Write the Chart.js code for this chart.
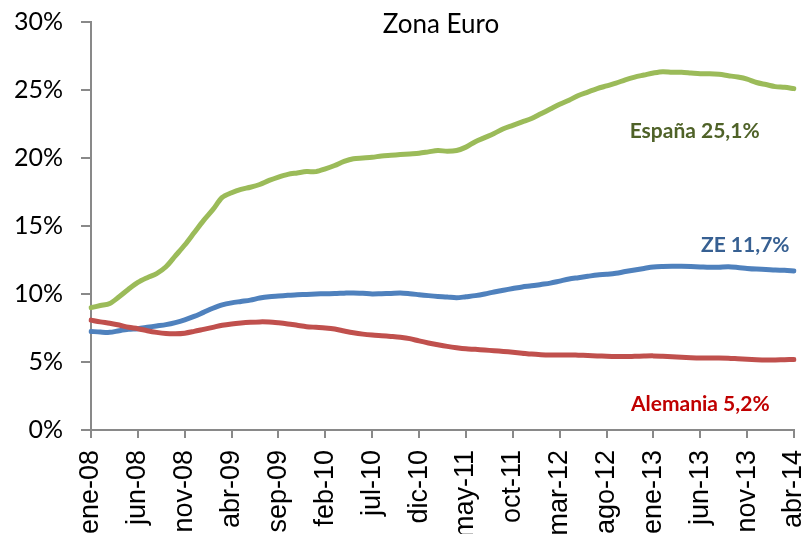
<!DOCTYPE html>
<html>
<head>
<meta charset="utf-8">
<script src="https://cdn.jsdelivr.net/npm/chart.js@4.4.1/dist/chart.umd.min.js"></script>
<style>
html,body{margin:0;padding:0;background:#fff;overflow:hidden;}
#wrap{position:relative;width:806px;height:560px;}
</style>
</head>
<body>
<div id="wrap"><canvas id="c" width="806" height="560"></canvas></div>
<script>
const monthNames = ['ene','feb','mar','abr','may','jun','jul','ago','sep','oct','nov','dic'];
const startYear = 2008, startMonth = 0, monthCount = 76;
const categories = [];
for (let i = 0; i < monthCount; i++) {
  const m = (startMonth + i) % 12, y = startYear + Math.floor((startMonth + i) / 12);
  categories.push(monthNames[m] + '-' + String(y).slice(2));
}
const tickEvery = 5;
const yTicks = [0, 5, 10, 15, 20, 25, 30];

const espana = [9.0,9.15,9.3,9.8,10.35,10.85,11.2,11.5,12.0,12.8,13.6,14.5,15.4,16.2,17.1,17.45,17.7,17.85,18.05,18.35,
18.6,18.8,18.9,19.0,19.0,19.2,19.45,19.75,19.95,20.0,20.05,20.15,20.2,20.25,20.3,20.35,20.45,20.55,20.5,20.55,
20.8,21.2,21.5,21.8,22.15,22.4,22.65,22.9,23.25,23.6,23.95,24.25,24.6,24.85,25.1,25.3,25.5,25.75,25.95,26.1,
26.25,26.35,26.3,26.3,26.25,26.2,26.2,26.15,26.05,25.95,25.8,25.55,25.4,25.25,25.2,25.1];
const ze = [7.25,7.2,7.18,7.3,7.4,7.45,7.55,7.65,7.75,7.9,8.1,8.35,8.65,8.95,9.2,9.35,9.45,9.55,9.7,9.8,
9.85,9.9,9.95,9.97,10.0,10.02,10.03,10.06,10.08,10.05,10.0,10.02,10.04,10.07,10.02,9.95,9.88,9.82,9.78,9.72,
9.8,9.88,10.0,10.15,10.28,10.4,10.52,10.6,10.7,10.8,10.95,11.1,11.2,11.3,11.4,11.45,11.52,11.65,11.77,11.88,
11.98,12.02,12.04,12.04,12.02,11.99,11.96,11.97,12.0,11.95,11.88,11.83,11.8,11.76,11.74,11.7];
const alemania = [8.08,7.95,7.85,7.72,7.55,7.45,7.3,7.18,7.1,7.08,7.12,7.25,7.4,7.55,7.7,7.8,7.87,7.92,7.95,7.94,
7.88,7.8,7.7,7.6,7.55,7.5,7.42,7.28,7.15,7.05,6.98,6.93,6.88,6.82,6.72,6.55,6.4,6.27,6.15,6.05,
5.97,5.93,5.88,5.83,5.78,5.72,5.65,5.58,5.54,5.52,5.52,5.52,5.5,5.48,5.45,5.42,5.4,5.4,5.42,5.44,
5.45,5.42,5.38,5.35,5.32,5.3,5.3,5.3,5.28,5.24,5.2,5.17,5.15,5.15,5.17,5.18];

const seriesNames = ['España', 'ZE', 'Alemania'];
const seriesLabels = ['España 25,1%', 'ZE 11,7%', 'Alemania 5,2%'];
const chartSubtitle = 'Zona Euro';

const lineColors = ['#9BBB59', '#4F81BD', '#C0504D'];
const labelColors = ['#4F6228', '#376092', '#C00000'];
const labelAnchors = [{i: 64.4, v: 22.0}, {i: 69.8, v: 13.55}, {i: 65.0, v: 1.9}];

const axisColor = '#898989';

const labelsPlugin = {
  id: 'seriesLabels',
  afterDatasetsDraw(chart) {
    const ctx = chart.ctx, xs = chart.scales.x, ys = chart.scales.y;
    ctx.save();
    ctx.font = 'bold 21px Lato';
    ctx.textAlign = 'center';
    ctx.textBaseline = 'middle';
    seriesLabels.forEach((t, k) => {
      ctx.fillStyle = labelColors[k];
      ctx.fillText(t, xs.getPixelForValue(labelAnchors[k].i), ys.getPixelForValue(labelAnchors[k].v));
    });
    ctx.font = '26px Lato';
    ctx.fillStyle = '#000';
    ctx.textBaseline = 'alphabetic';
    ctx.fillText(chartSubtitle, 441, ys.getPixelForValue(30) + 11);
    ctx.restore();
  }
};

const datasets = [espana, ze, alemania].map((d, k) => ({
  label: seriesNames[k],
  data: d,
  borderColor: lineColors[k],
  backgroundColor: lineColors[k],
  borderWidth: 5,
  pointRadius: 0,
  tension: 0.3,
  borderCapStyle: 'round',
  borderJoinStyle: 'round',
  fill: false
}));
datasets.reverse();

new Chart(document.getElementById('c'), {
  type: 'line',
  data: { labels: categories, datasets },
  options: {
    responsive: false,
    animation: false,
    layout: { padding: { left: 13, right: 12, top: 22, bottom: 0 } },
    plugins: { legend: { display: false }, tooltip: { enabled: false }, title: { display: false } },
    scales: {
      x: {
        type: 'category',
        offset: false,
        afterFit: (s) => { s.height = 130; s.paddingLeft = 0; s.paddingRight = 0; },
        grid: { display: true, drawOnChartArea: false, drawTicks: true, tickLength: 8, color: axisColor, lineWidth: 2 },
        border: { display: true, color: axisColor, width: 2 },
        ticks: {
          autoSkip: false,
          maxRotation: 90,
          minRotation: 90,
          padding: 12,
          color: '#000',
          font: { family: 'Liberation Sans', size: 27 },
          callback: function(val, idx) { return idx % tickEvery === 0 ? categories[idx] : null; }
        }
      },
      y: {
        min: 0, max: 30,
        afterFit: (s) => { s.width = 78; s.paddingTop = 0; s.paddingBottom = 0; },
        afterBuildTicks: (s) => { s.ticks = yTicks.map(v => ({ value: v })); },
        grid: { display: true, drawOnChartArea: false, drawTicks: true, tickLength: 10, color: axisColor, lineWidth: 2 },
        border: { display: true, color: axisColor, width: 2 },
        ticks: {
          padding: 18,
          color: '#000',
          font: { family: 'Lato', size: 25 },
          callback: (v) => v + '%'
        }
      }
    }
  },
  plugins: [labelsPlugin]
});
</script>
</body>
</html>
